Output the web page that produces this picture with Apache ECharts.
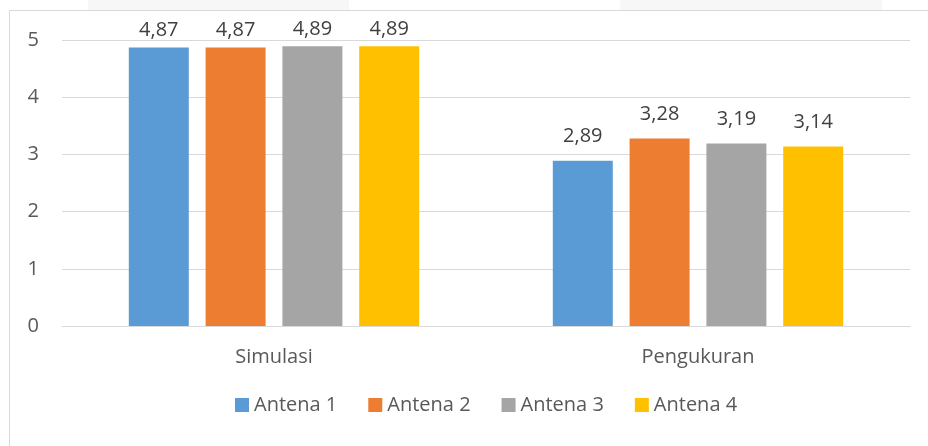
<!DOCTYPE html>
<html>
<head>
<meta charset="utf-8">
<script src="https://cdn.jsdelivr.net/npm/echarts@6/dist/echarts.min.js"></script>
<style>
  html, body { margin: 0; padding: 0; background: #fff; }
  #chart { width: 928px; height: 446px; }
</style>
</head>
<body>
<div id="chart"></div>
<script>
// kategori dan nilai
const categories = ['Simulasi', 'Pengukuran']
const seriesNames = ['Antena 1', 'Antena 2', 'Antena 3', 'Antena 4']
const antena1 = [4.87, 2.89]
const antena2 = [4.87, 3.28]
const antena3 = [4.89, 3.19]
const antena4 = [4.89, 3.14]
const yTicks = [0, 1, 2, 3, 4, 5]

const colors = ['#5b9bd5', '#ed7d31', '#a5a5a5', '#ffc000']
const values = [antena1, antena2, antena3, antena4]
// label Simulasi lebih rapat ke batang (terbatas oleh area atas)
const labelDistance = [7, 14]
const font = '"Open Sans", sans-serif'

const myChart = echarts.init(document.getElementById('chart'))

const option = {
  backgroundColor: '#fff',
  animation: false,
  textStyle: { fontFamily: font },
  graphic: [
    { type: 'rect', shape: { x: 88, y: 0, width: 261, height: 10 }, style: { fill: '#f7f7f7' } },
    { type: 'rect', shape: { x: 620, y: 0, width: 262, height: 10 }, style: { fill: '#f7f7f7' } },
    { type: 'rect', shape: { x: 9.5, y: 10.5, width: 940, height: 460 }, style: { fill: 'none', stroke: '#d9d9d9', lineWidth: 1 } }
  ],
  grid: { left: 62, right: 18, top: 40, bottom: 120, containLabel: false },
  legend: {
    data: seriesNames,
    bottom: 26,
    left: 230,
    itemWidth: 14,
    itemHeight: 14,
    itemGap: 31,
    icon: 'rect',
    textStyle: { color: '#595959', fontSize: 20, fontFamily: font }
  },
  xAxis: {
    type: 'category',
    data: categories,
    axisLine: { lineStyle: { color: '#d9d9d9', width: 1 } },
    axisTick: { show: false },
    axisLabel: { color: '#595959', fontSize: 20, margin: 21, fontFamily: font }
  },
  yAxis: {
    type: 'value',
    min: yTicks[0],
    max: yTicks[yTicks.length - 1],
    interval: 1,
    axisLine: { show: false },
    axisTick: { show: false },
    splitLine: { lineStyle: { color: '#d9d9d9', width: 1 } },
    axisLabel: { color: '#595959', fontSize: 20, margin: 23, fontFamily: font }
  },
  series: seriesNames.map((name, i) => ({
    name: name,
    type: 'bar',
    data: values[i].map((v, j) => ({ value: v, label: { distance: labelDistance[j] } })),
    barWidth: 60,
    barGap: '28%',
    itemStyle: { color: colors[i] },
    label: {
      show: true,
      position: 'top',
      color: '#404040',
      fontSize: 20,
      fontFamily: font,
      formatter: (p) => p.value.toFixed(2).replace('.', ',')
    }
  }))
}

myChart.setOption(option)

window.addEventListener('resize', () => {
  myChart.resize()
})
</script>
</body>
</html>
